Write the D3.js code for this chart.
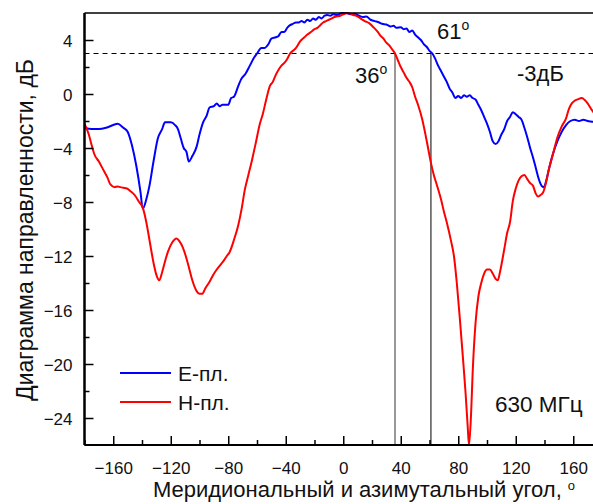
<!DOCTYPE html>
<html>
<head>
<meta charset="utf-8">
<script src="https://cdn.jsdelivr.net/npm/d3@7"></script>
<style>
  body { margin: 0; background: #fff; }
  text { font-family: "Liberation Sans", Arial, sans-serif; fill: #111; }
</style>
</head>
<body>
<script>
var width = 593;
var height = 504;

// E-plane (blue)
var angE = [-180, -175, -170, -165, -160, -157, -153, -150, -147, -144, -141, -139.5, -137, -135, -132, -129, -126, -124, -120, -117,
  -115, -113, -111, -109, -107.5, -105, -102, -100, -97.5, -95, -93, -90, -88, -86, -84, -80, -78, -76, -73, -71,
  -68, -65, -62, -60, -57, -55, -52, -50, -47, -45, -43, -41, -39, -37, -35, -33, -31, -29, -27, -25,
  -23, -21, -19, -17, -15, -13, -11, -9, -7, -4, -1, 2, 5, 8, 11, 14, 16, 19, 22, 25,
  27, 30, 33, 35, 37, 40, 42, 44, 46, 48, 50, 52, 54, 56, 58, 60, 62, 64, 66, 68,
  70, 72, 74, 76, 78, 80, 82, 84, 86, 88, 90, 92, 94, 96, 98, 100, 102, 104, 106, 108,
  110, 112, 114, 116, 118, 120, 122, 124, 126, 128, 130, 132, 134, 136, 138, 139.5, 141, 143, 146, 149,
  152, 155, 158, 161, 164, 167, 170, 173, 176, 180];
var dbE = [-2.5, -2.6, -2.6, -2.5, -2.3, -2.2, -2.5, -2.8, -3.8, -5.3, -7.3, -8.5, -7.8, -6.9, -5.0, -3.3, -2.6, -2.1, -2.1, -2.3,
  -2.6, -3.3, -4.0, -4.3, -5.0, -4.6, -3.9, -3.0, -2.1, -1.6, -1.0, -0.9, -0.7, -0.9, -0.8, -0.8, -0.3, -0.2, 0.6, 1.1,
  1.5, 2.1, 2.7, 3.0, 3.4, 3.4, 3.7, 4.1, 4.2, 4.3, 4.6, 4.6, 4.9, 5.1, 5.2, 5.3, 5.3, 5.4, 5.3, 5.5,
  5.4, 5.6, 5.5, 5.7, 5.6, 5.8, 5.85, 5.8, 5.9, 5.85, 6.0, 6.0, 5.9, 5.95, 5.8, 5.7, 5.75, 5.5, 5.4, 5.3,
  5.2, 5.15, 5.0, 5.05, 4.9, 4.95, 4.8, 4.85, 4.6, 4.7, 4.4, 4.2, 4.0, 3.7, 3.5, 3.2, 3.0, 2.6, 2.1, 1.7,
  1.3, 0.9, 0.4, 0.1, -0.3, -0.15, -0.3, -0.1, -0.2, -0.1, -0.3, -0.4, -0.8, -1.2, -1.7, -2.2, -2.8, -3.5, -3.7, -3.5,
  -3.0, -2.6, -2.0, -1.7, -1.35, -1.5, -1.7, -1.9, -2.5, -3.2, -4.0, -4.7, -5.5, -6.3, -6.8, -6.9, -6.5, -5.6, -4.4, -3.5,
  -2.8, -2.3, -2.0, -1.9, -2.0, -1.9, -2.0, -2.05, -2.1, -2.2];

// H-plane (red)
var angH = [-180, -177, -175, -173, -170, -167, -164, -162, -159, -157, -155, -153, -150.5, -148, -145, -142, -139.5, -137, -134.5, -132,
  -130, -128, -126, -124, -122, -119, -116, -114, -111.5, -109, -107, -105, -102, -100, -98, -96, -93, -90.5, -88, -85,
  -83.5, -81, -79, -76, -73, -70.5, -68.5, -66, -63.5, -61, -58, -56, -54, -51, -49, -47, -45, -43, -41, -39,
  -37, -35, -33, -30, -27, -25, -23, -20, -18, -16, -14, -12, -10, -8, -6, -4, -2, 0, 3, 5,
  7, 9, 12, 15, 18, 21, 24, 26, 28, 30, 32, 34, 36, 38, 40, 42, 44, 46, 48, 50,
  52, 55, 57, 59, 61, 63, 65, 68, 70, 72, 75, 77, 79, 81, 83, 85, 86.5, 87.5, 89, 90,
  92, 94, 96, 98, 100, 102, 104, 106, 107.5, 109, 112, 114, 116, 118, 120, 122, 124, 126, 128, 130,
  132, 134, 135.5, 137, 139, 141, 143, 146, 149, 152, 155, 157, 159, 161, 163, 166, 168, 170, 173, 176, 180];
var dbH = [-2.2, -3.0, -3.8, -4.5, -5.0, -5.6, -6.2, -6.7, -6.9, -6.85, -6.9, -6.95, -7.0, -7.2, -7.5, -8.0, -8.4, -9.5, -11.0, -12.5,
  -13.4, -13.8, -13.2, -12.4, -11.7, -11.0, -10.7, -10.9, -11.4, -12.2, -13.0, -13.8, -14.6, -14.8, -14.8, -14.4, -13.9, -13.4, -13.0, -12.6,
  -12.4, -12.0, -11.7, -10.8, -9.7, -8.4, -7.1, -6.0, -4.9, -3.7, -2.2, -1.5, -0.6, 0.6, 0.9, 1.4, 1.8, 2.1, 2.3, 2.6,
  3.0, 3.2, 3.4, 3.9, 4.2, 4.4, 4.55, 4.8, 4.9, 5.1, 5.3, 5.4, 5.5, 5.6, 5.7, 5.75, 5.8, 5.9, 6.0, 5.95,
  5.85, 5.8, 5.6, 5.4, 5.25, 4.95, 4.6, 4.3, 4.1, 3.8, 3.6, 3.3, 3.0, 2.5, 2.0, 1.6, 1.2, 0.9, 0.5, -0.2,
  -0.8, -1.9, -2.9, -4.0, -5.1, -6.0, -6.7, -7.8, -8.7, -9.5, -10.9, -12.0, -14.0, -16.5, -19.2, -22.0, -24.5, -26, -23.5, -20.7,
  -17.0, -15.0, -14.0, -13.3, -13.0, -13.0, -13.3, -13.7, -13.8, -13.2, -11.5, -10.3, -9.5, -7.9, -7.0, -6.4, -6.1, -6.0, -6.3, -6.6,
  -6.8, -7.4, -7.6, -7.5, -7.3, -6.6, -5.6, -4.4, -3.2, -2.4, -1.8, -1.1, -0.7, -0.5, -0.4, -0.3, -0.45, -0.7, -1.2, -1.6, -2.0];

var xTicks = [-160, -120, -80, -40, 0, 40, 80, 120, 160];
var xMinor = [-180, -140, -100, -60, -20, 20, 60, 100, 140, 180];
var yTicks = [4, 0, -4, -8, -12, -16, -20, -24];
var yMinor = [2, -2, -6, -10, -14, -18, -22];
var level3 = 3;        // -3 dB level
var markers = [36, 61];

var x = d3.scaleLinear().domain([-180, 180]).range([84.5, 602]);
var y = d3.scaleLinear().domain([-26, 6]).range([445, 13]);

var svg = d3.select("body").append("svg").attr("width", width).attr("height", height);

svg.append("defs").append("clipPath").attr("id", "plot")
  .append("rect").attr("x", x(-180)).attr("y", y(6) - 2).attr("width", x(180) - x(-180)).attr("height", y(-26) - y(6) + 2);

// -3 dB dashed line
svg.append("line")
  .attr("x1", x(-180)).attr("x2", x(180))
  .attr("y1", y(level3)).attr("y2", y(level3))
  .attr("stroke", "#000").attr("stroke-width", 1).attr("stroke-dasharray", "5,4");

// vertical marker lines
svg.selectAll(".mark").data(markers).enter().append("line")
  .attr("x1", function (d) { return x(d); }).attr("x2", function (d) { return x(d); })
  .attr("y1", y(level3)).attr("y2", y(-26))
  .attr("stroke", function (d, i) { return i == 0 ? "#7f7f7f" : "#000"; })
  .attr("stroke-width", function (d, i) { return i == 0 ? 1.6 : 1; });

var line = d3.line().curve(d3.curveMonotoneX);

var g = svg.append("g").attr("clip-path", "url(#plot)");
g.append("path")
  .attr("d", line(angE.map(function (a, i) { return [x(a), y(dbE[i])]; })))
  .attr("fill", "none").attr("stroke", "#0000ff").attr("stroke-width", 2);
g.append("path")
  .attr("d", line(angH.map(function (a, i) { return [x(a), y(dbH[i])]; })))
  .attr("fill", "none").attr("stroke", "#ff0000").attr("stroke-width", 2);

// axes with inward ticks
var xAxis = svg.append("g").attr("transform", "translate(0," + y(-26) + ")")
  .call(d3.axisBottom(x).tickValues(xTicks).tickSize(-9).tickPadding(17).tickFormat(d3.format("d")));
var xAxisMinor = svg.append("g").attr("transform", "translate(0," + y(-26) + ")")
  .call(d3.axisBottom(x).tickValues(xMinor).tickSize(-5).tickFormat(""));
var yAxis = svg.append("g").attr("transform", "translate(" + x(-180) + ",0)")
  .call(d3.axisLeft(y).tickValues(yTicks).tickSize(-9).tickPadding(12).tickFormat(d3.format("d")));
var yAxisMinor = svg.append("g").attr("transform", "translate(" + x(-180) + ",0)")
  .call(d3.axisLeft(y).tickValues(yMinor).tickSize(-5).tickFormat(""));

[xAxis, xAxisMinor, yAxis, yAxisMinor].forEach(function (a) {
  a.select(".domain").attr("stroke", "#000").attr("stroke-width", 2).attr("d",
    a === xAxis || a === xAxisMinor ? "M" + x(-180) + ",0H" + x(180) : "M0," + y(-26) + "V" + y(6));
  a.selectAll(".tick line").attr("stroke", "#000").attr("stroke-width", 1.5);
  a.selectAll("text").attr("font-size", 17).attr("font-family", "Liberation Sans, Arial, sans-serif").attr("fill", "#111");
});
yAxis.selectAll("text").attr("dy", "0.36em");

// top frame line
svg.append("line").attr("x1", x(-180)).attr("x2", x(180)).attr("y1", y(6)).attr("y2", y(6))
  .attr("stroke", "#000").attr("stroke-width", 1.5);

// axis titles
svg.append("text")
  .attr("transform", "translate(33," + 230 + ") rotate(-90)")
  .attr("text-anchor", "middle").attr("font-size", 23)
  .text("Диаграмма направленности, дБ");

var xt = svg.append("text").attr("x", 364).attr("y", 497).attr("text-anchor", "middle").attr("font-size", 22);
xt.append("tspan").text("Меридиональный и азимутальный угол, ");
xt.append("tspan").attr("font-size", 13).attr("dy", -7).text("o");

// annotations
function degLabel(tx, ty, s) {
  var t = svg.append("text").attr("x", tx).attr("y", ty).attr("font-size", 22);
  t.append("tspan").text(s);
  t.append("tspan").attr("font-size", 14).attr("dy", -9).text("o");
}
degLabel(437, 39, "61");
degLabel(355, 83, "36");
svg.append("text").attr("x", 517).attr("y", 81).attr("font-size", 22).text("-3дБ");
svg.append("text").attr("x", 495).attr("y", 412).attr("font-size", 22.5).text("630 МГц");

// legend
var legendNames = ["E-пл.", "H-пл."];
var legendColors = ["#0000ff", "#ff0000"];
var leg = svg.selectAll(".leg").data(legendNames).enter().append("g")
  .attr("transform", function (d, i) { return "translate(120," + (373 + i * 29) + ")"; });
leg.append("line").attr("x1", 0).attr("x2", 51).attr("y1", 0).attr("y2", 0)
  .attr("stroke", function (d, i) { return legendColors[i]; }).attr("stroke-width", 2);
leg.append("text").attr("x", 58).attr("y", 8).attr("font-size", 21).text(function (d) { return d; });
</script>
</body>
</html>
